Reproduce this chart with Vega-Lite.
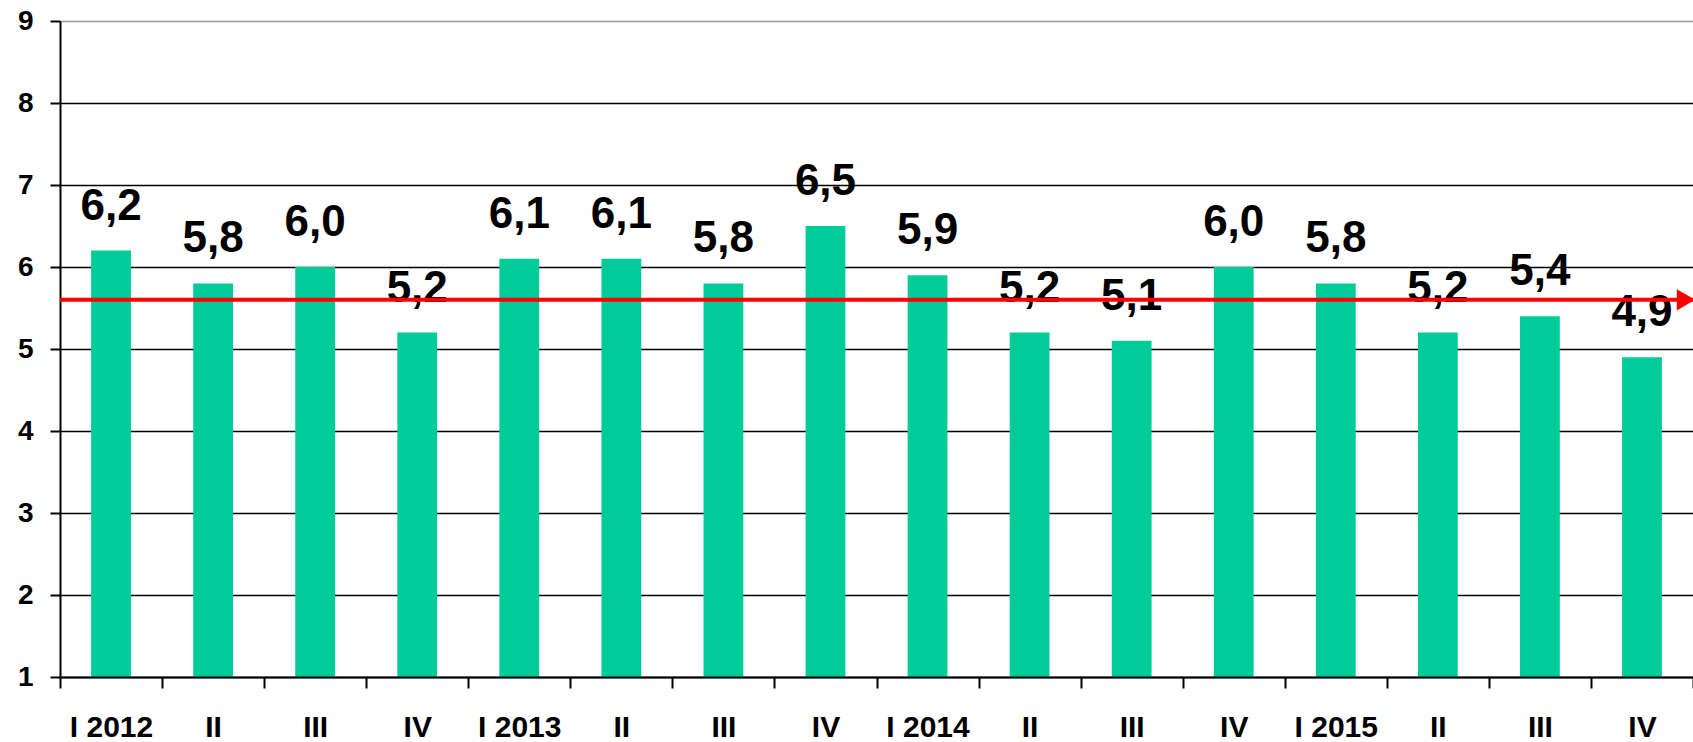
{
  "$schema": "https://vega.github.io/schema/vega-lite/v6.json",
  "width": 1633,
  "height": 656,
  "autosize": {"type": "none"},
  "padding": {"left": 60, "top": 21, "right": 0, "bottom": 65},
  "background": "white",
  "config": {
    "view": {"stroke": null},
    "font": "Liberation Sans",
    "locale": {"number": {"decimal": ",", "thousands": " ", "grouping": [3], "currency": ["", ""]}}
  },
  "layer": [
    {
      "data": {
        "values": [
          {"q": "I 2012", "v": 6.2},
          {"q": "II 2012", "v": 5.8},
          {"q": "III 2012", "v": 6.0},
          {"q": "IV 2012", "v": 5.2},
          {"q": "I 2013", "v": 6.1},
          {"q": "II 2013", "v": 6.1},
          {"q": "III 2013", "v": 5.8},
          {"q": "IV 2013", "v": 6.5},
          {"q": "I 2014", "v": 5.9},
          {"q": "II 2014", "v": 5.2},
          {"q": "III 2014", "v": 5.1},
          {"q": "IV 2014", "v": 6.0},
          {"q": "I 2015", "v": 5.8},
          {"q": "II 2015", "v": 5.2},
          {"q": "III 2015", "v": 5.4},
          {"q": "IV 2015", "v": 4.9}
        ]
      },
      "layer": [
        {
          "mark": {"type": "bar", "color": "#00CC99", "width": {"band": 0.39}},
          "encoding": {
            "x": {
              "field": "q", "type": "nominal", "sort": null,
              "scale": {"paddingInner": 0, "paddingOuter": 0},
              "axis": {
                "title": null,
                "labelAngle": 0,
                "labelOverlap": false,
                "labelExpr": "slice(datum.label,0,2) == 'I ' ? datum.label : split(datum.label,' ')[0]",
                "labelFont": "Liberation Sans",
                "labelFontWeight": "bold",
                "labelFontSize": 30,
                "labelColor": "black",
                "labelPadding": 24,
                "tickBand": "extent",
                "tickSize": 11,
                "tickColor": "black",
                "tickWidth": 2,
                "domainColor": "black",
                "domainWidth": 2,
                "grid": false,
                "zindex": 1
              }
            },
            "y": {
              "field": "v", "type": "quantitative",
              "scale": {"domain": [1, 9], "nice": false, "zero": false},
              "axis": {
                "title": null,
                "format": "d",
                "values": [1, 2, 3, 4, 5, 6, 7, 8, 9],
                "labelFont": "Liberation Sans",
                "labelFontWeight": "bold",
                "labelFontSize": 28,
                "labelColor": "black",
                "labelPadding": 17,
                "tickSize": 10,
                "tickColor": "black",
                "tickWidth": 2,
                "domainColor": "black",
                "domainWidth": 2,
                "grid": true,
                "gridColor": {"condition": {"test": "datum.value == 9", "value": "#999999"}, "value": "black"},
                "gridWidth": 1.5,
                "gridOpacity": 1
              }
            },
            "y2": {"datum": 1}
          }
        },
        {
          "mark": {"type": "text", "baseline": "alphabetic", "dy": -31, "font": "Liberation Sans", "fontWeight": "bold", "fontSize": 44, "color": "black"},
          "encoding": {
            "x": {"field": "q", "type": "nominal", "sort": null},
            "y": {"field": "v", "type": "quantitative"},
            "text": {"field": "v", "type": "quantitative", "format": ".1f"}
          }
        }
      ]
    },
    {
      "data": {"values": [{"avg": 5.6}]},
      "mark": {"type": "rule", "color": "#FF0000", "strokeWidth": 4},
      "encoding": {
        "y": {"field": "avg", "type": "quantitative"}
      }
    },
    {
      "data": {"values": [{"q": "IV 2015", "avg": 5.6}]},
      "mark": {"type": "point", "shape": "triangle-right", "filled": true, "color": "#FF0000", "opacity": 1, "size": 450, "xOffset": 44},
      "encoding": {
        "x": {"field": "q", "type": "nominal", "sort": null},
        "y": {"field": "avg", "type": "quantitative"}
      }
    }
  ],
  "resolve": {"scale": {"x": "shared", "y": "shared"}}
}
